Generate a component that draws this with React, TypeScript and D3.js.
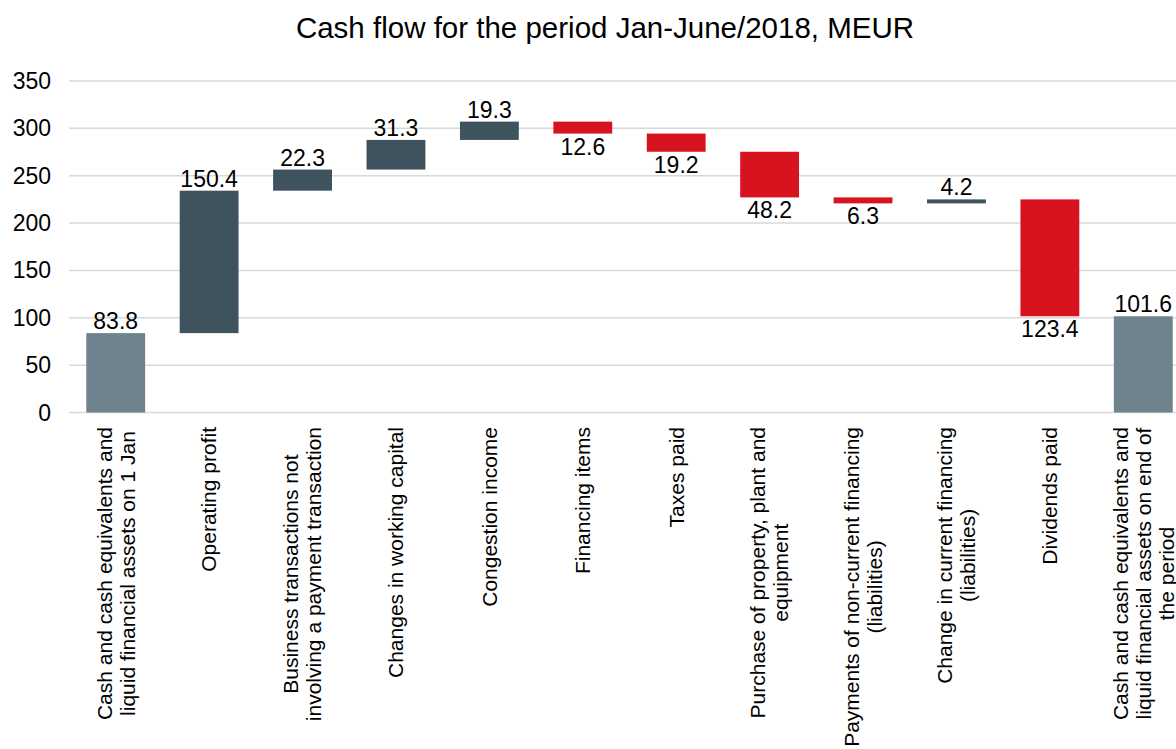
import * as d3 from 'd3'
import { useEffect, useRef } from 'react'

const W = 1176
const H = 749
const FONT = '"Liberation Sans", Arial, sans-serif'

const categories = [
  ['Cash and cash equivalents and', 'liquid financial assets on 1 Jan'],
  ['Operating profit'],
  ['Business transactions not', 'involving a payment transaction'],
  ['Changes in working capital'],
  ['Congestion income'],
  ['Financing items'],
  ['Taxes paid'],
  ['Purchase of property, plant and', 'equipment'],
  ['Payments of non-current financing', '(liabilities)'],
  ['Change in current financing', '(liabilities)'],
  ['Dividends paid'],
  ['Cash and cash equivalents and', 'liquid financial assets on end of', 'the period'],
]
const values = [83.8, 150.4, 22.3, 31.3, 19.3, -12.6, -19.2, -48.2, -6.3, 4.2, -123.4, 101.6]
// 'total' bars start from zero, 'delta' bars float on the running total
const kinds = ['total', 'delta', 'delta', 'delta', 'delta', 'delta', 'delta', 'delta', 'delta', 'delta', 'delta', 'total']
const yTicks = [0, 50, 100, 150, 200, 250, 300, 350]

const COLOR_TOTAL = '#6e838e'
const COLOR_UP = '#3e535d'
const COLOR_DOWN = '#d7131f'

interface Bar {
  i: number
  lo: number
  hi: number
  value: number
  kind: string
}

function buildBars(): Bar[] {
  const bars: Bar[] = []
  let run = 0
  values.forEach((v, i) => {
    if (kinds[i] === 'total') {
      bars.push({ i, lo: 0, hi: v, value: v, kind: 'total' })
      run = v
    } else {
      const next = run + v
      bars.push({ i, lo: Math.min(run, next), hi: Math.max(run, next), value: v, kind: 'delta' })
      run = next
    }
  })
  return bars
}

export default function App() {
  const svgRef = useRef<SVGSVGElement>(null)

  useEffect(() => {
    if (!svgRef.current) return
    const svg = d3.select(svgRef.current)
    svg.selectAll('*').remove()

    const x = d3.scaleBand<number>()
      .domain(values.map((_, i) => i))
      .range([69, 1190])
      .paddingInner(0.37)
      .paddingOuter(0.185)

    const y = d3.scaleLinear().domain([0, 350]).range([412.5, 81])

    svg.append('rect').attr('width', W).attr('height', H).attr('fill', '#ffffff')

    // title
    svg.append('text')
      .attr('x', 605)
      .attr('y', 38)
      .attr('text-anchor', 'middle')
      .attr('font-family', FONT)
      .attr('font-size', 29.5)
      .attr('fill', '#000')
      .text('Cash flow for the period Jan-June/2018, MEUR')

    // gridlines + y labels
    const grid = svg.append('g')
    grid.selectAll('line')
      .data(yTicks)
      .enter()
      .append('line')
      .attr('x1', 69)
      .attr('x2', W)
      .attr('y1', d => y(d))
      .attr('y2', d => y(d))
      .attr('stroke', '#d9d9d9')
      .attr('stroke-width', 1.5)

    grid.selectAll('text')
      .data(yTicks)
      .enter()
      .append('text')
      .attr('x', 51)
      .attr('y', d => y(d))
      .attr('dy', '0.35em')
      .attr('text-anchor', 'end')
      .attr('font-family', FONT)
      .attr('font-size', 23)
      .attr('fill', '#000')
      .text(d => d)

    const bars = buildBars()

    svg.append('g')
      .selectAll('rect')
      .data(bars)
      .enter()
      .append('rect')
      .attr('x', d => x(d.i)!)
      .attr('width', x.bandwidth())
      .attr('y', d => y(d.hi))
      .attr('height', d => Math.max(1, y(d.lo) - y(d.hi)))
      .attr('fill', d => d.kind === 'total' ? COLOR_TOTAL : d.value >= 0 ? COLOR_UP : COLOR_DOWN)

    // value labels: above for positive, below for negative
    svg.append('g')
      .selectAll('text')
      .data(bars)
      .enter()
      .append('text')
      .attr('x', d => x(d.i)! + x.bandwidth() / 2)
      .attr('y', d => d.value >= 0 ? y(d.hi) - 4 : y(d.lo) + 21)
      .attr('text-anchor', 'middle')
      .attr('font-family', FONT)
      .attr('font-size', 23)
      .attr('fill', '#000')
      .text(d => Math.abs(d.value).toFixed(1))

    // category labels, rotated, lines centred within the block
    const TOP = 427
    const LINE = 23
    const catG = svg.append('g')
    categories.forEach((lines, i) => {
      const cx = x(i)! + x.bandwidth() / 2
      const g = catG.append('g').attr('transform', `translate(${cx}, 0) rotate(-90)`)
      const texts = lines.map((ln, k) => g.append('text')
        .attr('y', (k - (lines.length - 1) / 2) * LINE)
        .attr('dy', '0.35em')
        .attr('text-anchor', 'middle')
        .attr('font-family', FONT)
        .attr('font-size', 21)
        .attr('fill', '#000')
        .text(ln))
      const maxW = d3.max(texts, t => (t.node() as SVGTextElement).getComputedTextLength()) || 0
      texts.forEach(t => t.attr('x', -(TOP + maxW / 2)))
    })
  }, [])

  return (
    <svg
      ref={svgRef}
      width={W}
      height={H}
      style={{ position: 'absolute', left: 0, top: 0, display: 'block' }}
    />
  )
}
